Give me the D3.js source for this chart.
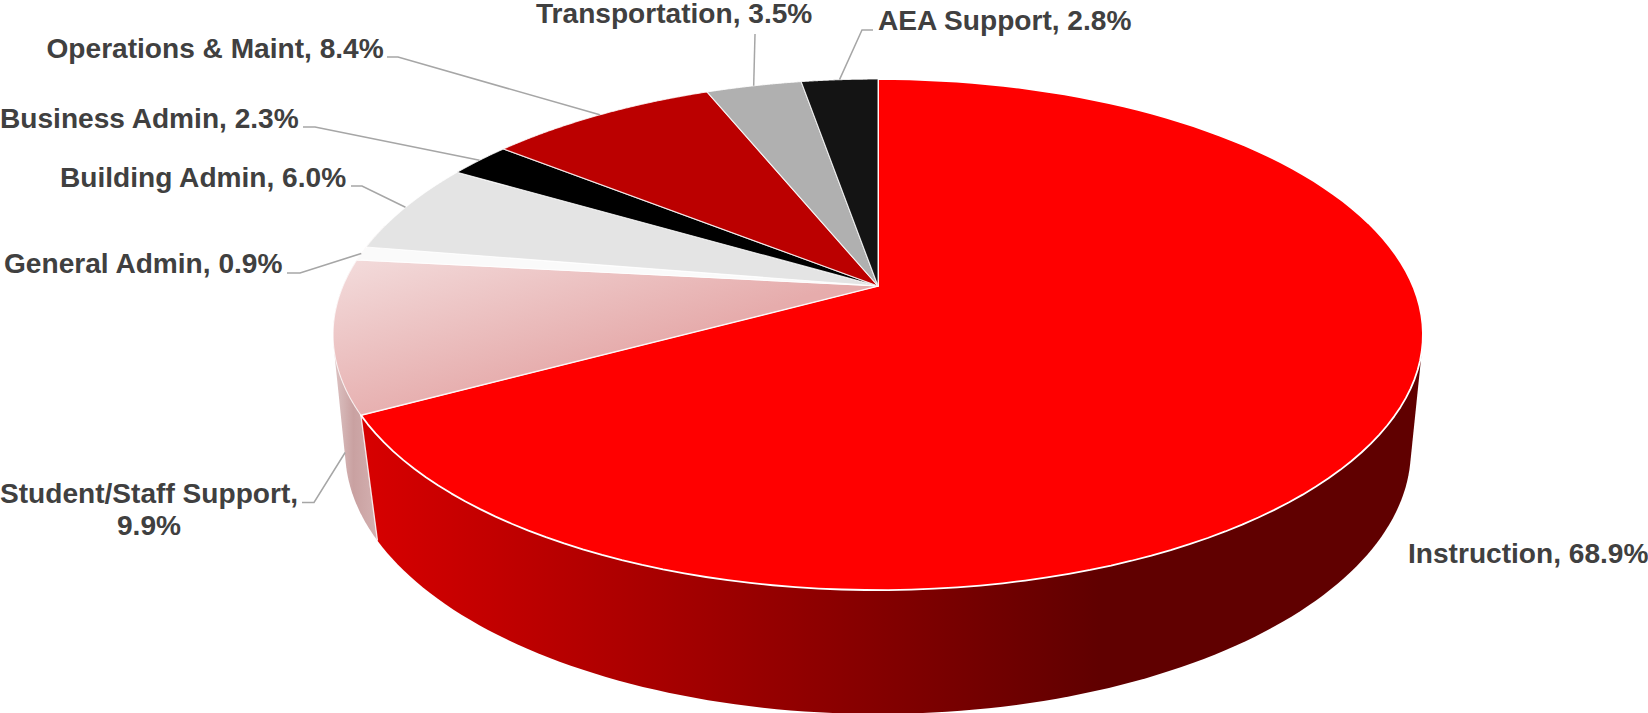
<!DOCTYPE html>
<html>
<head>
<meta charset="utf-8">
<script src="https://cdn.jsdelivr.net/npm/d3@7"></script>
<style>
  html, body { margin: 0; padding: 0; background: #fff; }
  svg { display: block; }
  text { font-family: "Liberation Sans", Arial, sans-serif; font-weight: 700; fill: #404040; }
</style>
</head>
<body>
<svg id="chart" width="1648" height="713"></svg>
<script>
// Spending categories, clockwise from twelve o'clock
const categories = ["Instruction", "Student/Staff Support", "General Admin", "Building Admin",
                    "Business Admin", "Operations & Maint", "Transportation", "AEA Support"];
const shares = [68.9, 9.9, 0.9, 6.0, 2.3, 8.4, 3.5, 2.8];

const topFills = ["#ff0000", "url(#supportTop)", "#fafafa", "#e4e4e4",
                  "#000000", "#bb0000", "#b0b0b0", "#141414"];

// Label placement: text start x, baseline y per line, and the elbow of each leader
const labelLines = [
  [["Instruction, 68.9%", 1408, 563]],
  [["Student/Staff Support,", 0, 503], ["9.9%", 117, 535]],
  [["General Admin, 0.9%", 4, 273]],
  [["Building Admin, 6.0%", 60, 187]],
  [["Business Admin, 2.3%", 0, 128]],
  [["Operations & Maint, 8.4%", 46.5, 58]],
  [["Transportation, 3.5%", 536, 23]],
  [["AEA Support, 2.8%", 878, 30]]
];
const leaderElbows = [
  null,
  [[302, 502.5], [314, 502.5]],
  [[287, 273], [300, 273]],
  [[351, 186], [362, 186]],
  [[303, 127], [315, 127]],
  [[387, 57], [398, 57]],
  [[755, 34]],
  [[873, 30], [862, 30]]
];

// Perspective disc: maps a clockwise angle from the top onto a tilted circle
function disc(cx, cy, a, h, k) {
  return angle => {
    const u = Math.sin(angle), v = Math.cos(angle), w = 1 + k * v;
    return [cx + a * u / w, cy - h * v / w];
  };
}
const hub = [878, 286];
const topRim = disc(hub[0], hub[1], 535, 246.3, 0.19);
const bottomRim = disc(878, 408, 526, 257, 0.16);

const arcPoints = (rim, a0, a1) => d3.range(0, 121).map(i => rim(a0 + (a1 - a0) * i / 120));
const rad = d => d * Math.PI / 180;

const svg = d3.select("#chart");
const defs = svg.append("defs");

function gradient(id, x1, y1, x2, y2, stops) {
  const g = defs.append("linearGradient").attr("id", id).attr("gradientUnits", "userSpaceOnUse")
    .attr("x1", x1).attr("y1", y1).attr("x2", x2).attr("y2", y2);
  stops.forEach(([o, c]) => g.append("stop").attr("offset", o).attr("stop-color", c));
}
gradient("supportTop", 350, 255, 400, 420, [[0, "#f3dcdc"], [1, "#e6acac"]]);
gradient("supportWall", 335, 0, 376, 0, [[0, "#dcc2c2"], [0.45, "#c9a1a1"], [1, "#d3afaf"]]);
gradient("instructionWall", 370, 0, 1100, 0, [[0, "#d60000"], [1, "#600000"]]);

const slices = d3.pie().sort(null).value(d => d)(shares);
const line = d3.line();

// Outer walls: hull of the two rims over the front-facing part of each slice
const walls = [
  { fill: "url(#instructionWall)", a0: rad(85), a1: slices[0].endAngle },
  { fill: "url(#supportWall)", a0: slices[1].startAngle, a1: rad(285) }
];
svg.append("g").selectAll("path").data(walls.slice().reverse()).join("path")
  .attr("fill", d => d.fill)
  .attr("d", d => line(d3.polygonHull(arcPoints(topRim, d.a0, d.a1).concat(arcPoints(bottomRim, d.a0, d.a1)))) + "Z");

// Seam between the two visible walls
const seam = slices[0].endAngle;
svg.append("path").attr("fill", "none").attr("stroke", "#fff").attr("stroke-opacity", 0.85).attr("stroke-width", 1.3)
  .attr("d", line([topRim(seam), bottomRim(seam)]));

// Top face
svg.append("g").selectAll("path").data(slices).join("path")
  .attr("fill", (d, i) => topFills[i])
  .attr("stroke", "#fff")
  .attr("stroke-width", (d, i) => i === 0 ? 1.8 : 1.1)
  .attr("stroke-opacity", (d, i) => i === 0 ? 1 : 0.8)
  .attr("stroke-linejoin", "round")
  .attr("d", d => line([hub, ...arcPoints(topRim, d.startAngle, d.endAngle)]) + "Z");

// Leader lines run from the label to the slice rim at its mid-angle
svg.append("g").selectAll("path").data(slices).join("path")
  .attr("fill", "none").attr("stroke", "#a6a6a6").attr("stroke-width", 1.5)
  .attr("d", (d, i) => {
    if (!leaderElbows[i]) return null;
    const mid = (d.startAngle + d.endAngle) / 2;
    const end = i === 1 ? bottomRim(rad(260.3)) : topRim(mid);
    return line([...leaderElbows[i], end]);
  });

// Data labels
svg.append("g").selectAll("g").data(labelLines).join("g").selectAll("text").data(d => d).join("text")
  .attr("x", d => d[1]).attr("y", d => d[2])
  .attr("font-size", 28.1)
  .text(d => d[0]);
</script>
</body>
</html>
